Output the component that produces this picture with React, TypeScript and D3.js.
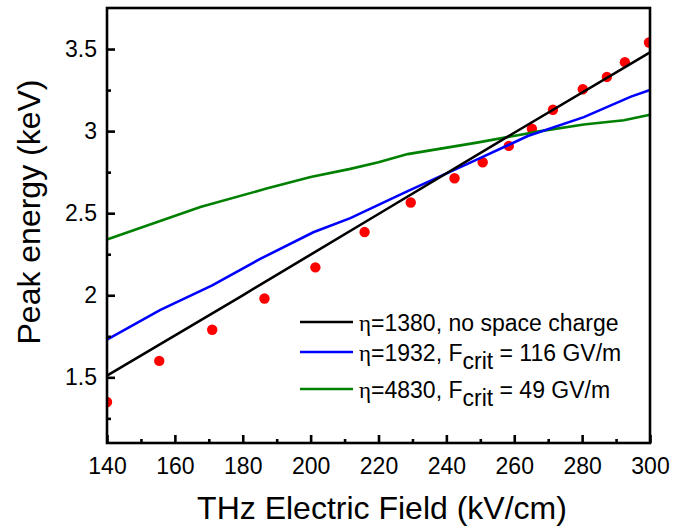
import React, { useEffect, useRef } from "react";
import * as d3 from "d3";

// measured points (red dots)
const expField = [140, 155.4, 171, 186.4, 201.4, 215.9, 229.5, 242.4, 250.7, 258.4, 265.2, 271.4, 280.2, 287.3, 292.6, 299.7];
const expEnergy = [1.35, 1.6, 1.79, 1.98, 2.17, 2.385, 2.565, 2.713, 2.81, 2.91, 3.015, 3.13, 3.255, 3.33, 3.42, 3.54];

// simulation curves
const blackField = [140, 180, 220, 260, 300];
const blackEnergy = [1.51, 2.0, 2.495, 2.99, 3.48];

const blueField = [140, 155.6, 171, 185, 200.8, 211.7, 228.6, 248, 264, 280.5, 294.4, 300];
const blueEnergy = [1.73, 1.91, 2.06, 2.22, 2.384, 2.47, 2.634, 2.817, 2.97, 3.085, 3.21, 3.25];

const greenField = [140, 167.5, 187, 200, 211.7, 220, 228.6, 249, 267.8, 280.5, 292.3, 300];
const greenEnergy = [2.34, 2.537, 2.65, 2.72, 2.77, 2.81, 2.86, 2.93, 3.0, 3.04, 3.066, 3.1];

const xTicks = [140, 160, 180, 200, 220, 240, 260, 280, 300];
const yTicks = [1.5, 2, 2.5, 3, 3.5];
const yTickLabels = ["1.5", "2", "2.5", "3", "3.5"];

const legendLabels = [
  { eta: "=1380, no space charge", sub: "", tail: "" },
  { eta: "=1932, F", sub: "crit", tail: " = 116 GV/m" },
  { eta: "=4830, F", sub: "crit", tail: " = 49 GV/m" },
];
const legendColors = ["#000000", "#0000ff", "#008000"];

const W = 687;
const H = 526;
const margin = { top: 8, right: 37, bottom: 83, left: 107 };
const font = "Liberation Sans, Arial, sans-serif";

export default function App() {
  const ref = useRef<SVGSVGElement | null>(null);

  useEffect(() => {
    const svg = d3.select(ref.current);
    svg.selectAll("*").remove();

    const x = d3.scaleLinear().domain([140, 300]).range([margin.left, W - margin.right]);
    const y = d3.scaleLinear().domain([1.1, 3.75]).range([H - margin.bottom, margin.top]);
    const x0 = x.range()[0], x1 = x.range()[1];
    const y0 = y.range()[0], y1 = y.range()[1];

    const line = d3.line<[number, number]>()
      .x(d => x(d[0]))
      .y(d => y(d[1]));

    const series = [
      { f: greenField, e: greenEnergy, c: legendColors[2] },
      { f: blueField, e: blueEnergy, c: legendColors[1] },
      { f: blackField, e: blackEnergy, c: legendColors[0] },
    ];

    const clip = svg.append("defs").append("clipPath").attr("id", "plotclip");
    clip.append("rect").attr("x", x0).attr("y", y1).attr("width", x1 - x0).attr("height", y0 - y1);

    // dots first, lines over them
    const dots = svg.append("g").attr("clip-path", "url(#plotclip)");
    dots.selectAll("circle")
      .data(expField.map((f, i) => [f, expEnergy[i]]))
      .enter()
      .append("circle")
      .attr("cx", d => x(d[0]))
      .attr("cy", d => y(d[1]))
      .attr("r", 5.2)
      .attr("fill", "#ff0000");

    const plot = svg.append("g");
    series.forEach(s => {
      plot.append("path")
        .datum(s.f.map((f, i) => [f, s.e[i]] as [number, number]))
        .attr("d", line)
        .attr("fill", "none")
        .attr("stroke", s.c)
        .attr("stroke-width", 2.6);
    });

    // frame
    svg.append("rect")
      .attr("x", x0).attr("y", y1)
      .attr("width", x1 - x0).attr("height", y0 - y1)
      .attr("fill", "none").attr("stroke", "#000").attr("stroke-width", 2.6);

    // x axis
    const xMinor = d3.range(150, 300, 20);
    const xAxis = svg.append("g").attr("transform", `translate(0,${y0})`);
    xAxis.call(d3.axisBottom(x).tickValues(xTicks).tickSize(-8).tickFormat(d3.format("d")));
    xAxis.append("g").call(d3.axisBottom(x).tickValues(xMinor).tickSize(-4).tickFormat(() => ""));
    xAxis.selectAll(".domain").remove();
    xAxis.selectAll("line").attr("stroke-width", 2.6);
    xAxis.selectAll("text")
      .attr("y", 31)
      .attr("dy", 0)
      .attr("font-size", 23)
      .attr("font-family", font)
      .attr("fill", "#000");

    // y axis
    const yMinor = [1.25, 1.75, 2.25, 2.75, 3.25];
    const yAxis = svg.append("g").attr("transform", `translate(${x0},0)`);
    yAxis.call(d3.axisLeft(y).tickValues(yTicks).tickSize(-8).tickFormat((d, i) => yTickLabels[i]));
    yAxis.append("g").call(d3.axisLeft(y).tickValues(yMinor).tickSize(-4).tickFormat(() => ""));
    yAxis.selectAll(".domain").remove();
    yAxis.selectAll("line").attr("stroke-width", 2.6);
    yAxis.selectAll("text")
      .attr("x", -10)
      .attr("font-size", 23)
      .attr("font-family", font)
      .attr("fill", "#000");

    // axis titles
    svg.append("text")
      .attr("x", 382)
      .attr("y", 519)
      .attr("text-anchor", "middle")
      .attr("font-size", 32)
      .attr("font-family", font)
      .text("THz Electric Field (kV/cm)");

    svg.append("text")
      .attr("transform", `translate(40,212) rotate(-90)`)
      .attr("text-anchor", "middle")
      .attr("font-size", 32)
      .attr("font-family", font)
      .text("Peak energy (keV)");

    // legend
    const rowY = [322, 352, 389];
    const leg = svg.append("g");
    legendLabels.forEach((l, i) => {
      leg.append("line")
        .attr("x1", 300).attr("x2", 353)
        .attr("y1", rowY[i]).attr("y2", rowY[i])
        .attr("stroke", legendColors[i]).attr("stroke-width", 2.6);
      const t = leg.append("text")
        .attr("x", 359)
        .attr("y", rowY[i] + 9)
        .attr("font-size", 23)
        .attr("font-family", font);
      t.append("tspan").attr("font-family", "Liberation Serif, serif").text("η");
      t.append("tspan").text(l.eta);
      if (l.sub) {
        t.append("tspan").attr("dy", 8).text(l.sub);
        t.append("tspan").attr("dy", -8).text(l.tail);
      }
    });
  }, []);

  return (
    <svg
      ref={ref}
      width={W}
      height={H}
      style={{ position: "absolute", left: 0, top: 0, background: "#fff" }}
    />
  );
}
